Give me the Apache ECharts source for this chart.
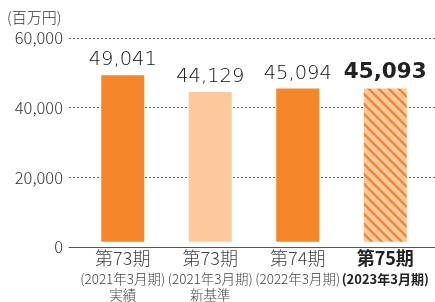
<!DOCTYPE html>
<html><head><meta charset="utf-8">
<script src="https://cdn.jsdelivr.net/npm/echarts@6/dist/echarts.min.js"></script>
<style>html,body{margin:0;padding:0;background:#fff}#c{width:435px;height:302px}</style>
</head><body><div id="c"></div>
<script>
const periods = ['第73期','第73期','第74期','第75期'];
const fiscal = ['(2021年3月期)','(2021年3月期)','(2022年3月期)','(2023年3月期)'];
const notes = ['実績','新基準','',''];
const values = [49041, 44129, 45094, 45093];
const yTicks = [0, 20000, 40000, 60000];
const unitLabel = '(百万円)';

const FONT = '"Noto Sans CJK JP", "Noto Sans", sans-serif';
const NUMFONT = '"DejaVu Sans", sans-serif';
const ORANGE = '#F5862A';
const LIGHT = '#FDC89B';

function hatch() {
  const s = 10;
  const c = document.createElement('canvas');
  c.width = s; c.height = s;
  const g = c.getContext('2d');
  g.fillStyle = LIGHT; g.fillRect(0,0,s,s);
  g.strokeStyle = ORANGE; g.lineWidth = 2.4;
  g.beginPath();
  g.moveTo(0,0); g.lineTo(s,s);
  g.moveTo(-s,0); g.lineTo(s,2*s);
  g.moveTo(0,-s); g.lineTo(2*s,s);
  g.stroke();
  return c;
}

const colors = [ORANGE, LIGHT, ORANGE, {image: hatch(), repeat: 'repeat'}];
const yMin = yTicks[0], yMax = yTicks[yTicks.length-1], yStep = yTicks[1]-yTicks[0];

const chart = echarts.init(document.getElementById('c'));
chart.setOption({
  animation: false,
  grid: [
    {left: 79, right: 6, top: 38, bottom: 55},
    {left: 69, right: 0, top: 38, bottom: 55}
  ],
  graphic: [{type:'text', left: 7, top: 10, style:{text: unitLabel, font: '300 15px ' + FONT, fill: '#333'}}],
  xAxis: [{
    type: 'category', gridIndex: 0,
    data: periods.map((p,i)=>String(i)),
    axisLine: {show: false},
    axisTick: {show: false},
    axisLabel: {
      interval: 0, margin: 3.5,
      formatter: (v) => {
        const i = +v;
        const b = i === 3;
        let s = (b ? '{pb|' : '{p|') + periods[i] + '}\n' + (b ? '{fb|' : '{f|') + fiscal[i] + '}';
        if (notes[i]) s += '\n{n|' + notes[i] + '}';
        return s;
      },
      rich: {
        p: {fontSize: 18, fontFamily: FONT, fontWeight: 300, color: '#444', lineHeight: 26},
        pb: {fontSize: 18, fontFamily: FONT, fontWeight: 'bold', color: '#222', lineHeight: 26},
        f: {fontSize: 13.5, fontFamily: FONT, fontWeight: 300, color: '#444', lineHeight: 16},
        fb: {fontSize: 13, fontFamily: FONT, fontWeight: 'bold', color: '#222', lineHeight: 16},
        n: {fontSize: 13.5, fontFamily: FONT, fontWeight: 300, color: '#444', lineHeight: 16}
      }
    }
  }, {
    type: 'value', gridIndex: 1, min: 0, max: 1, show: true,
    axisLine: {show: true, onZero: false, lineStyle: {color: '#555', width: 1}},
    axisTick: {show: false}, axisLabel: {show: false}, splitLine: {show: false}
  }],
  yAxis: [{
    type: 'value', gridIndex: 0, min: yMin, max: yMax, interval: yStep, show: false,
    splitLine: {show: false}
  }, {
    type: 'value', gridIndex: 1, min: yMin, max: yMax, interval: yStep,
    axisLine: {show: false}, axisTick: {show: false},
    axisLabel: {margin: 6, fontSize: 16.5, fontFamily: FONT, fontWeight: 300, color: '#333',
      formatter: v => v.toLocaleString('en-US')},
    splitLine: {show: true, lineStyle: {type: [2,2], color: '#666', width: 1}}
  }],
  series: [{
    type: 'bar', barWidth: 43, xAxisIndex: 0, yAxisIndex: 0,
    data: values.map((v,i)=>({value: v, itemStyle: {color: colors[i]},
      label: i === 3 ? {fontWeight: 'bold', fontSize: 21.5, color: '#222'} : {}})),
    label: {show: true, position: 'top', distance: 5, fontSize: 19.5, fontFamily: NUMFONT, fontWeight: 200, color: '#111',
      formatter: p => p.value.toLocaleString('en-US')}
  }]
});
</script></body></html>
